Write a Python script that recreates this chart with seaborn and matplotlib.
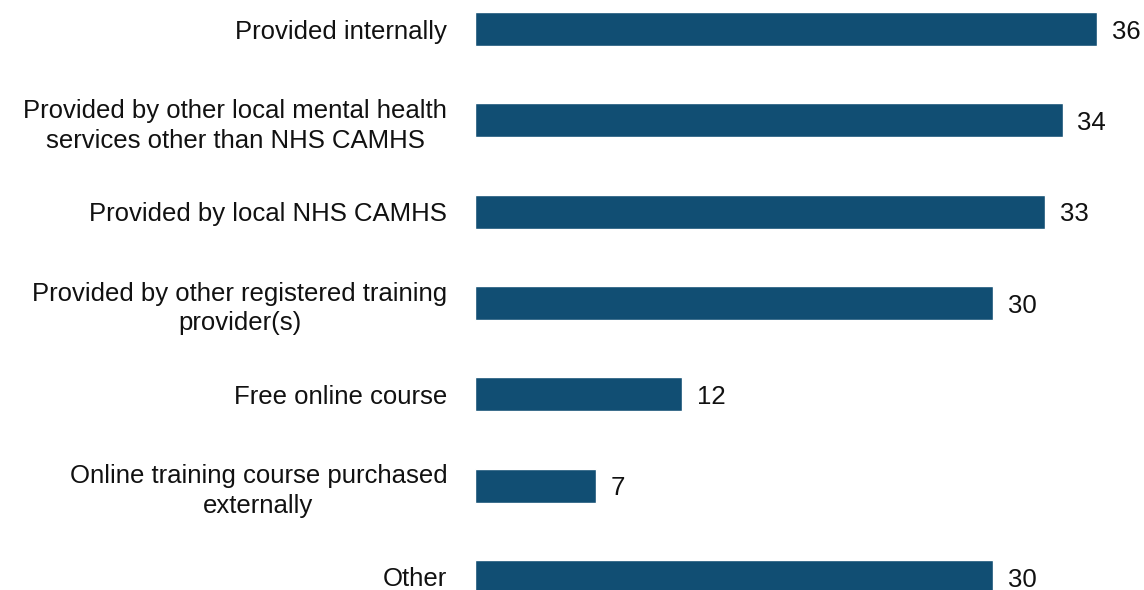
import matplotlib
matplotlib.use("Agg")
import matplotlib.pyplot as plt
import seaborn as sns
import pandas as pd

categories = [
    "Provided internally",
    "Provided by other local mental health\nservices other than NHS CAMHS",
    "Provided by local NHS CAMHS",
    "Provided by other registered training\nprovider(s)",
    "Free online course",
    "Online training course purchased\nexternally",
    "Other",
]
values = [36, 34, 33, 30, 12, 7, 30]

df = pd.DataFrame({"category": categories, "value": values})

sns.set_theme(style="white")
plt.rcParams["font.family"] = ["Liberation Sans", "DejaVu Sans"]

fig = plt.figure(figsize=(11.44, 5.9), dpi=100)
ax = fig.add_axes([475 / 1144, 0.0, 1 - 475 / 1144, 1.0])

sns.barplot(data=df, x="value", y="category", color="#114E73", saturation=1,
            width=0.37, ax=ax, orient="h")

ax.set_xlim(0, 669 / 17.28)
ax.set_ylim(6 + 13 / 91.3, -29 / 91.3)
ax.set_xlabel("")
ax.set_ylabel("")
ax.set_xticks([])
for s in ax.spines.values():
    s.set_visible(False)
ax.tick_params(axis="y", length=0, pad=20)
for lbl in ax.get_yticklabels():
    lbl.set_fontsize(18.5)
    lbl.set_color("#111111")
    lbl.set_multialignment("center")
    lbl.set_linespacing(1.3)

for i, v in enumerate(values):
    ax.text(v + 0.85, i + 0.03, str(v), va="center", ha="left", fontsize=18.5, color="#111111")

fig.savefig("out.png", dpi=100)
